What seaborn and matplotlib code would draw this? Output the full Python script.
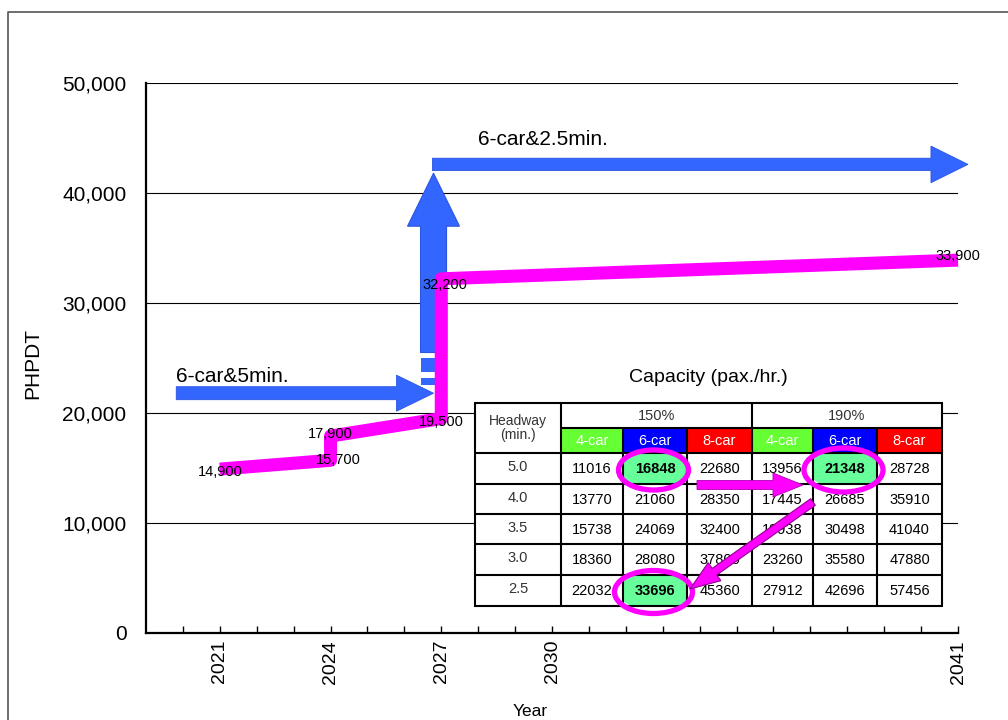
import numpy as np
import pandas as pd
import matplotlib
matplotlib.use("Agg")
import matplotlib.pyplot as plt
import seaborn as sns
from matplotlib import font_manager as fm
from matplotlib.patches import Rectangle, Ellipse, FancyArrow
from matplotlib.ticker import FixedLocator, FixedFormatter

# ---------------- data ----------------
years = [2021, 2024, 2024, 2027, 2027, 2041]
phpdt = [14900, 15700, 17900, 19500, 32200, 33900]
point_labels = ["14,900", "15,700", "17,900", "19,500", "32,200", "33,900"]
label_offsets_px = [(0, -3), (8, 0), (0, 2), (0, -4), (4, -6), (0, 4)]

x_label_years = [2021, 2024, 2027, 2030, 2041]
y_ticks = [0, 10000, 20000, 30000, 40000, 50000]
y_tick_labels = ["0", "10,000", "20,000", "30,000", "40,000", "50,000"]

# capacity arrows
cap_5min_level = 21800          # 6-car & 5 min
cap_25min_level = 42600         # 6-car & 2.5 min
arrow1_x = [2019.82, 2026.79]   # tail, tip
arrow_up_x = 2026.79
arrow_up_y = [25500, 41800]     # shaft bottom, tip
arrow_up_dashes = [(23727, 25000), (22545, 23182)]
arrow2_x = [2026.76, 2041.27]

# capacity table
headway = ["5.0", "4.0", "3.5", "3.0", "2.5"]
load_levels = ["150%", "190%"]
car_types = ["4-car", "6-car", "8-car"]
cap150_4 = [11016, 13770, 15738, 18360, 22032]
cap150_6 = [16848, 21060, 24069, 28080, 33696]
cap150_8 = [22680, 28350, 32400, 37800, 45360]
cap190_4 = [13956, 17445, 19938, 23260, 27912]
cap190_6 = [21348, 26685, 30498, 35580, 42696]
cap190_8 = [28728, 35910, 41040, 47880, 57456]
highlight_cells = [(0, 1), (0, 4), (4, 1)]   # (row, value column)

# ---------------- style ----------------
sns.set_theme(style="white")
plt.rcParams["font.family"] = ["Liberation Sans", "DejaVu Sans"]
plt.rcParams.update({"text.color": "black", "axes.labelcolor": "black",
                     "xtick.color": "black", "ytick.color": "black"})
names = {f.name for f in fm.fontManager.ttflist}
NARROW = "Liberation Sans Narrow" if "Liberation Sans Narrow" in names else "Liberation Sans"
TBL_FS = 12.5 if NARROW == "Liberation Sans Narrow" else 10.5

BLUE = "#3366FF"
MAGENTA = "#FF00FF"

W, H = 1008, 720
fig = plt.figure(figsize=(W / 100, H / 100), dpi=100)
fig.patch.set_facecolor("white")

AX_L, AX_R, AX_T, AX_B = 146, 958, 83, 633
ax = fig.add_axes([AX_L / W, 1 - AX_B / H, (AX_R - AX_L) / W, (AX_B - AX_T) / H])
ax.set_facecolor("white")
XMIN, XMAX, YMIN, YMAX = 2019, 2041, 0, 50000
ax.set_xlim(XMIN, XMAX)
ax.set_ylim(YMIN, YMAX)

PX_X = (AX_R - AX_L) / (XMAX - XMIN)
PX_Y = (AX_B - AX_T) / (YMAX - YMIN)
dx = lambda p: p / PX_X
dy = lambda p: p / PX_Y

# grid
for yv in y_ticks[1:]:
    ax.axhline(yv, color="black", lw=0.8, zorder=0.5)

# ---- blue arrows ----
def harrow(x0, x1, y, w, hw, hl, clip=True):
    w, hw, hl = dy(w), dy(hw), dx(hl)
    xs = [x0, x1 - hl, x1 - hl, x1, x1 - hl, x1 - hl, x0]
    ys = [y - w / 2, y - w / 2, y - hw / 2, y, y + hw / 2, y + w / 2, y + w / 2]
    p = ax.fill(xs, ys, color=BLUE, ec="#2B55DD", lw=0.6, zorder=2)[0]
    p.set_clip_on(clip)

def varrow(x, y0, y1, w, hw, hl):
    w, hw, hl = dx(w), dx(hw), dy(hl)
    xs = [x - w / 2, x - w / 2, x - hw / 2, x, x + hw / 2, x + w / 2, x + w / 2]
    ys = [y0, y1 - hl, y1 - hl, y1, y1 - hl, y1 - hl, y0]
    ax.fill(xs, ys, color=BLUE, ec="#2B55DD", lw=0.8, zorder=2)

harrow(arrow1_x[0], arrow1_x[1], cap_5min_level, 13, 36, 37)
varrow(arrow_up_x, arrow_up_y[0], arrow_up_y[1], 26, 52, 53)
for (a, b) in arrow_up_dashes:
    ax.add_patch(Rectangle((arrow_up_x - dx(13), a), dx(26), b - a, color=BLUE, zorder=2, lw=0))
harrow(arrow2_x[0], arrow2_x[1], cap_25min_level, 12.4, 36.6, 37, clip=False)

ax.text(2019.81, 23273, "6-car&5min.", fontsize=15, ha="left", va="center", zorder=4)
ax.text(2027.99, 44845, "6-car&2.5min.", fontsize=15, ha="left", va="center", zorder=4)

# ---- magenta PHPDT line ----
df = pd.DataFrame({"year": years, "phpdt": phpdt})
sns.lineplot(data=df, x="year", y="phpdt", sort=False, estimator=None, ax=ax,
             color=MAGENTA, lw=9.4, zorder=3, solid_joinstyle="round", solid_capstyle="butt",
             clip_on=False)

for xv, yv, lab, (ox, oy) in zip(years, phpdt, point_labels, label_offsets_px):
    ax.annotate(lab, (xv, yv), xytext=(ox * 0.72, oy * 0.72), textcoords="offset points",
                ha="center", va="center", fontsize=10.5, zorder=4, annotation_clip=False)

# axes cosmetics
ax.set_xlim(XMIN, XMAX)
ax.set_ylim(YMIN, YMAX)
ax.set_yticks(y_ticks)
ax.set_yticklabels(y_tick_labels, fontsize=15)
ax.tick_params(axis="y", length=0, pad=14)

all_years = list(range(2020, 2042))
ax.xaxis.set_major_locator(FixedLocator(all_years))
ax.xaxis.set_major_formatter(FixedFormatter([str(y) if y in x_label_years else "" for y in all_years]))
ax.tick_params(axis="x", direction="in", length=5, width=1, color="black", labelsize=14,
               labelrotation=90, pad=5, bottom=True)

for s in ["top", "right"]:
    ax.spines[s].set_visible(False)
for s in ["left", "bottom"]:
    ax.spines[s].set_color("black")
    ax.spines[s].set_linewidth(1.6)

ax.set_ylabel("PHPDT", fontsize=15)
ax.yaxis.set_label_coords((42 - AX_L) / (AX_R - AX_L), 0.49)
ax.set_xlabel("Year", fontsize=12.5)
ax.xaxis.set_label_coords((530 - AX_L) / (AX_R - AX_L), (AX_B - 712) / (AX_B - AX_T))
ax.xaxis.label.set_va("center")

# ---------------- overlay (table + frame) ----------------
ov = fig.add_axes([0, 0, 1, 1], zorder=10)
ov.set_xlim(0, W)
ov.set_ylim(H, 0)
ov.axis("off")
ov.patch.set_visible(False)

# figure frame
ov.plot([8, 8, W], [H, 12, 12], color="#555555", lw=1.2, clip_on=False)

TX = [475, 561, 623, 687, 752, 813, 877, 942]
TY = [403, 428, 453, 484, 514, 544, 575, 606]

ov.text((TX[0] + TX[-1]) / 2, 378, "Capacity (pax./hr.)", fontsize=14, ha="center", va="center")

ov.add_patch(Rectangle((TX[0], TY[0]), TX[-1] - TX[0], TY[-1] - TY[0], fc="white", ec="none", zorder=1))

hdr_colors = ["#66FF33", "#0000FF", "#FF0000"]
for j in range(6):
    c = hdr_colors[j % 3]
    ov.add_patch(Rectangle((TX[j + 1], TY[1]), TX[j + 2] - TX[j + 1], TY[2] - TY[1], fc=c, ec="none", zorder=2))
    ov.text((TX[j + 1] + TX[j + 2]) / 2, (TY[1] + TY[2]) / 2 + 0.5, car_types[j % 3], color="white",
            family=NARROW, fontsize=TBL_FS, ha="center", va="center", zorder=5)

# highlight fills
for (r, c) in highlight_cells:
    x0, x1 = TX[c + 1], TX[c + 2]
    y0, y1 = TY[r + 2], TY[r + 3]
    cx, cy = (x0 + x1) / 2, (y0 + y1) / 2
    clip = Rectangle((x0, y0), x1 - x0, y1 - y0, transform=ov.transData)
    e = Ellipse((cx, cy), 76, 40, fc="#66FF99", ec="none", zorder=2)
    ov.add_patch(e)
    e.set_clip_path(clip)

# table lines
LW = 1.5
ov.add_patch(Rectangle((TX[0], TY[0]), TX[-1] - TX[0], TY[-1] - TY[0], fc="none", ec="black", lw=LW, zorder=4))
ov.plot([TX[1], TX[-1]], [TY[1], TY[1]], color="black", lw=LW, zorder=4)
for yv in TY[2:-1]:
    ov.plot([TX[0], TX[-1]], [yv, yv], color="black", lw=LW, zorder=4)
for xv in [TX[1], TX[4]]:
    ov.plot([xv, xv], [TY[0], TY[-1]], color="black", lw=LW, zorder=4)
for xv in [TX[2], TX[3], TX[5], TX[6]]:
    ov.plot([xv, xv], [TY[1], TY[-1]], color="black", lw=LW, zorder=4)

# header texts
GRAY = "#333333"
ov.text((TX[0] + TX[1]) / 2, (TY[0] + TY[2]) / 2, "Headway\n(min.)", family=NARROW, fontsize=TBL_FS - 0.5,
        ha="center", va="center", color=GRAY, linespacing=0.95, zorder=5)
ov.text((TX[1] + TX[4]) / 2, (TY[0] + TY[1]) / 2, load_levels[0], family=NARROW, fontsize=TBL_FS,
        ha="center", va="center", color=GRAY, zorder=5)
ov.text((TX[4] + TX[7]) / 2, (TY[0] + TY[1]) / 2, load_levels[1], family=NARROW, fontsize=TBL_FS,
        ha="center", va="center", color=GRAY, zorder=5)

cols = [cap150_4, cap150_6, cap150_8, cap190_4, cap190_6, cap190_8]
for r in range(5):
    cy = (TY[r + 2] + TY[r + 3]) / 2
    ov.text((TX[0] + TX[1]) / 2, cy - 1.5, headway[r], family=NARROW, fontsize=TBL_FS,
            ha="center", va="center", color=GRAY, zorder=5)
    for c in range(6):
        bold = (r, c) in highlight_cells
        ov.text((TX[c + 1] + TX[c + 2]) / 2, cy + 0.5, str(cols[c][r]), family=NARROW, fontsize=TBL_FS,
                ha="center", va="center", color="black", fontweight="bold" if bold else "normal", zorder=5)

# magenta rings
ring_sizes = [(70, 40), (79, 44), (78, 43)]
for (r, c), (ew, eh) in zip(highlight_cells, ring_sizes):
    cx = (TX[c + 1] + TX[c + 2]) / 2 - 1.5
    cy = (TY[r + 2] + TY[r + 3]) / 2 + 1.5
    ov.add_patch(Ellipse((cx, cy), ew, eh, fc="none", ec=MAGENTA, lw=3.8, zorder=6))

# magenta arrows
ov.add_patch(FancyArrow(697, 485, 106, 0, width=9, head_width=24, head_length=30,
                        length_includes_head=True, fc=MAGENTA, ec="#B000B0", lw=0.6, zorder=7))
ov.add_patch(FancyArrow(813, 502, -123, 87, width=8, head_width=22, head_length=30,
                        length_includes_head=True, fc=MAGENTA, ec="#900090", lw=0.8, zorder=7))

fig.savefig("out.png", dpi=100, facecolor="white")
